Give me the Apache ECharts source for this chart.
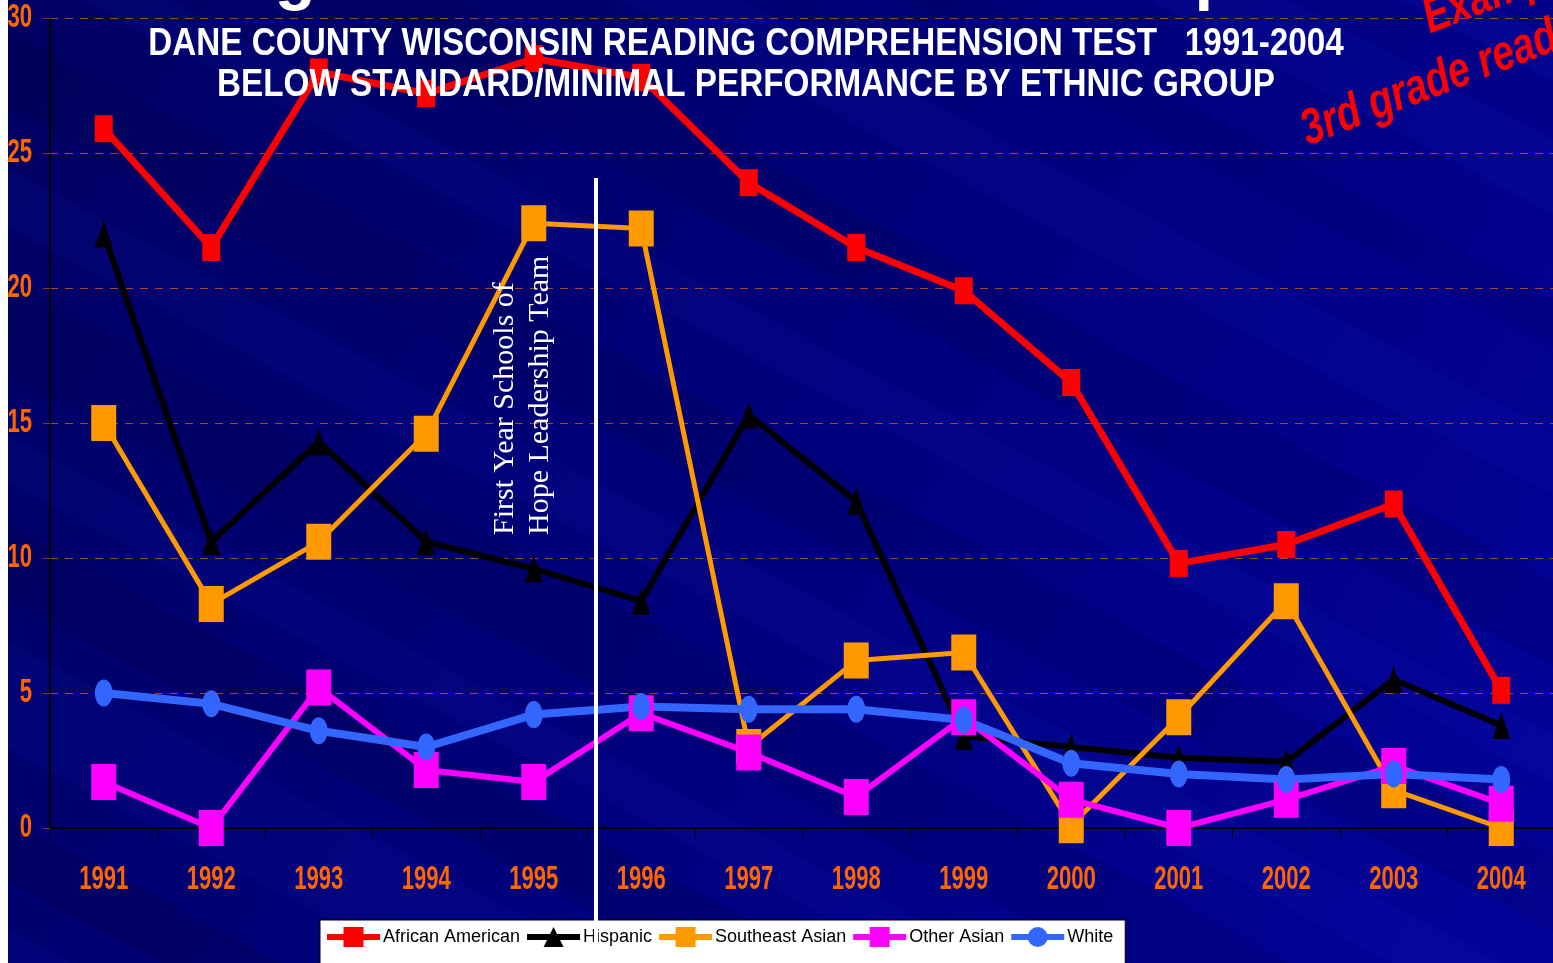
<!DOCTYPE html>
<html>
<head>
<meta charset="utf-8">
<script src="https://cdn.jsdelivr.net/npm/echarts@6/dist/echarts.min.js"></script>
<style>
html,body{margin:0;padding:0;background:#fff;}
#chart{width:1553px;height:963px;}
</style>
</head>
<body>
<div id="chart"></div>
<script>
// ---- data ----
const years = ['1991','1992','1993','1994','1995','1996','1997','1998','1999','2000','2001','2002','2003','2004'];
const yTicks = [0, 5, 10, 15, 20, 25, 30];
const africanAmerican = [25.9, 21.5, 28.0, 27.2, 28.5, 27.8, 23.9, 21.5, 19.9, 16.5, 9.8, 10.5, 12.0, 5.1];
const hispanic        = [22.0, 10.6, 14.3, 10.6, 9.6, 8.4, 15.3, 12.1, 3.4, 3.0, 2.6, 2.45, 5.5, 3.8];
const southeastAsian  = [15.0, 8.3, 10.6, 14.6, 22.4, 22.2, 3.0, 6.2, 6.5, 0.1, 4.1, 8.4, 1.4, 0];
const otherAsian      = [1.7, 0, 5.2, 2.15, 1.7, 4.25, 2.8, 1.15, 4.1, 1.05, 0, 1.05, 2.3, 0.9];
const white           = [5.0, 4.6, 3.6, 3.0, 4.2, 4.5, 4.4, 4.4, 4.0, 2.4, 2.0, 1.8, 2.0, 1.8];
const seriesNames = ['African American','Hispanic','Southeast Asian','Other Asian','White'];
const titleLines = ['DANE COUNTY WISCONSIN READING COMPREHENSION TEST   1991-2004',
                    'BELOW STANDARD/MINIMAL PERFORMANCE BY ETHNIC GROUP'];
const headline = 'Closing the Racial Achievement Gap';
const annotation = ['First Year Schools of', 'Hope Leadership Team'];
const sideNotes = ['Example', '3rd grade reading'];

const SANS = '"Liberation Sans", Arial, sans-serif';
const ellipse = 'path://M0,10 A10,10 0 1 1 20,10 A10,10 0 1 1 0,10 Z';

const chart = echarts.init(document.getElementById('chart'), null, {renderer:'canvas'});

function lineSeries(name, data, color, width, symbol, size){
  return {
    name:name, type:'line', data:data, symbol:symbol, symbolSize:size,
    showAllSymbol:true, clip:false,
    lineStyle:{color:color, width:width},
    itemStyle:{color:color},
    emphasis:{disabled:true}, animation:false
  };
}

chart.setOption({
  backgroundColor: {
    type:'linear', x:0, y:0, x2:1, y2:1,
    colorStops:[{offset:0,color:'#000062'},{offset:0.5,color:'#00007c'},{offset:1,color:'#03039a'}]
  },
  animation:false,
  grid:{left:50, top:18, width:1505, height:810, containLabel:false, outerBoundsMode:'none'},
  xAxis:{
    type:'category', data:years, boundaryGap:true,
    axisLine:{show:true, lineStyle:{color:'#000', width:2}},
    axisTick:{show:true, alignWithLabel:false, length:10, lineStyle:{color:'#000', width:1}},
    axisLabel:{show:false},
    splitLine:{show:false}
  },
  yAxis:{
    type:'value', min:0, max:30, interval:5,
    axisLine:{show:true, lineStyle:{color:'#000', width:2}},
    axisTick:{show:true, length:7, lineStyle:{color:'#8a3a18'}},
    axisLabel:{show:false},
    splitLine:{show:true, lineStyle:{color:'#a8481c', width:1, type:[8,7]}}
  },
  legend:{
    data:seriesNames, left:320, top:920, orient:'horizontal',
    backgroundColor:'#ffffff', borderColor:'#000', borderWidth:1,
    padding:[7,12,20,4], itemGap:4, itemWidth:53, itemHeight:25,
    lineStyle:{width:6},
    textStyle:{color:'#000', fontSize:18, fontFamily:SANS, padding:[0,0,0,-2]},
    selectedMode:false
  },
  series:[
    lineSeries(seriesNames[0], africanAmerican, '#ff0000', 7, 'rect', [18,27]),
    lineSeries(seriesNames[1], hispanic, '#000000', 6, 'triangle', [18,27]),
    lineSeries(seriesNames[2], southeastAsian, '#ff9900', 5, 'rect', [25,36]),
    lineSeries(seriesNames[3], otherAsian, '#ff00ff', 6, 'rect', [25,36]),
    lineSeries(seriesNames[4], white, '#3366ff', 8, ellipse, [18,27])
  ]
});

// subtle diagonal streaks in the slide background (decorative)
const stripes = [];
const stripeDefs = [
  [-1900, 160, 'rgba(40,50,220,0.08)'], [-1650, 120, 'rgba(0,0,30,0.15)'],
  [-1400, 200, 'rgba(40,50,220,0.07)'], [-1120, 140, 'rgba(0,0,30,0.13)'],
  [-900, 90, 'rgba(40,50,220,0.08)'],  [-700, 180, 'rgba(0,0,30,0.10)'],
  [-420, 110, 'rgba(40,50,220,0.08)'], [-200, 150, 'rgba(0,0,30,0.10)'],
  [80, 90, 'rgba(40,50,220,0.08)'],    [300, 160, 'rgba(0,0,30,0.10)'],
  [620, 120, 'rgba(40,50,220,0.08)'],  [900, 90, 'rgba(0,0,30,0.08)'],
  [1150, 140, 'rgba(40,50,220,0.09)'], [1400, 80, 'rgba(60,70,230,0.09)']
];
const run = 963 / Math.tan(28*Math.PI/180);
stripeDefs.forEach(function(d){
  stripes.push({type:'polygon', silent:true, z:-9,
    shape:{points:[[d[0],0],[d[0]+d[1],0],[d[0]+d[1]+run,963],[d[0]+run,963]]},
    style:{fill:d[2]}});
});

// tick labels placed from the library's own axis scales
const labelColor = '#ff6600';
const labelFont = 'bold 33px "Liberation Sans", Arial, sans-serif';
const xLabels = years.map(function(y){
  const px = chart.convertToPixel({xAxisIndex:0}, y);
  return {type:'text', silent:true, z:10, x:px, y:880, scaleX:0.67,
    style:{text:y, fill:labelColor, font:labelFont, textAlign:'center', textVerticalAlign:'middle'}};
});
const yLabels = yTicks.map(function(v){
  const py = chart.convertToPixel({yAxisIndex:0}, v);
  return {type:'text', silent:true, z:10, x:32, y:py, scaleX:0.67,
    style:{text:String(v), fill:labelColor, font:labelFont, textAlign:'right', textVerticalAlign:'middle'}};
});

const titleFont = 'bold 38px "Liberation Sans", Arial, sans-serif';
const redFont = 'italic bold 50px "Liberation Sans", Arial, sans-serif';
const serifFont = '30px "Liberation Serif", "Times New Roman", serif';

chart.setOption({
  graphic:[].concat(stripes, xLabels, yLabels, [
    {type:'rect', silent:true, z:50, shape:{x:0,y:0,width:8,height:963}, style:{fill:'#ffffff'}},
    {type:'text', silent:true, z:5, x:70, y:-21,
      style:{text:headline, fill:'#ffffff', font:'bold 67px "Liberation Sans", Arial, sans-serif', textAlign:'left', textVerticalAlign:'middle'}},
    {type:'text', silent:true, z:30, x:746, y:45, scaleX:0.875,
      style:{text:titleLines[0], fill:'#ffffff', font:titleFont, textAlign:'center', textVerticalAlign:'middle'}},
    {type:'text', silent:true, z:30, x:746, y:86, scaleX:0.875,
      style:{text:titleLines[1], fill:'#ffffff', font:titleFont, textAlign:'center', textVerticalAlign:'middle'}},
    {type:'line', silent:true, z:20, shape:{x1:596,y1:178,x2:596,y2:963}, style:{stroke:'#ffffff', lineWidth:4}},
    {type:'text', silent:true, z:21, x:505, y:535, rotation:Math.PI/2,
      style:{text:annotation[0], fill:'#ffffff', font:serifFont, textAlign:'left', textVerticalAlign:'middle'}},
    {type:'text', silent:true, z:21, x:540, y:535, rotation:Math.PI/2,
      style:{text:annotation[1], fill:'#ffffff', font:serifFont, textAlign:'left', textVerticalAlign:'middle'}},
    {type:'text', silent:true, z:21, x:1312, y:156, rotation:21*Math.PI/180, scaleX:0.78,
      style:{text:sideNotes[1], fill:'#ff0000', font:redFont, textAlign:'left', textVerticalAlign:'bottom'}},
    {type:'text', silent:true, z:21, x:1434, y:44, rotation:21*Math.PI/180, scaleX:0.78,
      style:{text:sideNotes[0], fill:'#ff0000', font:redFont, textAlign:'left', textVerticalAlign:'bottom'}}
  ])
});
</script>
</body>
</html>
